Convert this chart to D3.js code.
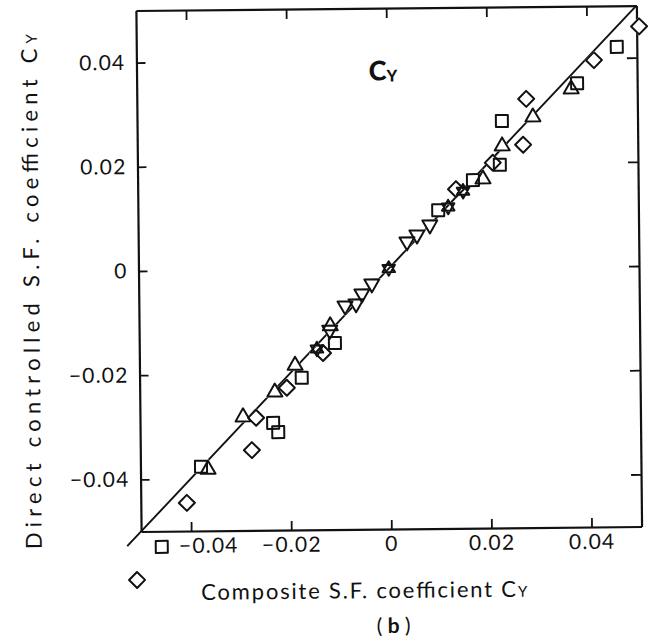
<!DOCTYPE html>
<html>
<head>
<meta charset="utf-8">
<script src="https://cdn.jsdelivr.net/npm/d3@7"></script>
<style>
  body { margin: 0; background: #fff; }
  svg text { font-family: Lato, "DejaVu Sans", sans-serif; fill: #111; }
</style>
</head>
<body>
<svg id="chart" width="658" height="642"></svg>
<script>
// Tick values shared by both axes
const xTicks = [-0.04, -0.02, 0, 0.02, 0.04];
const yTicks = [-0.04, -0.02, 0, 0.02, 0.04];

// [composite Cy, direct controlled Cy] pairs, one array per marker type
const diamondPts = [
  [0.0505, 0.0460], [0.0414, 0.0396], [0.0278, 0.0323], [0.0271, 0.0235],
  [0.0210, 0.0201], [0.0136, 0.0151], [-0.0133, -0.0161], [-0.0206, -0.0227],
  [-0.0268, -0.0284], [-0.0277, -0.0346], [-0.0408, -0.0446], [-0.0509, -0.0593]
];
const squarePts = [
  [0.0460, 0.0421], [0.0380, 0.0352], [0.0229, 0.0281], [0.0224, 0.0197],
  [0.0170, 0.0168], [0.0100, 0.0111], [-0.0109, -0.0142], [-0.0176, -0.0208],
  [-0.0234, -0.0294], [-0.0224, -0.0312], [-0.0379, -0.0377], [-0.0459, -0.0530]
];
const triUpPts = [
  [0.0368, 0.0345], [0.0291, 0.0292], [0.0229, 0.0237], [0.0190, 0.0174],
  [-0.0118, -0.0105], [-0.0189, -0.0180], [-0.0230, -0.0231], [-0.0294, -0.0278],
  [-0.0365, -0.0378]
];
const triDownPts = [
  [0.0083, 0.0079], [0.0057, 0.0060], [0.0037, 0.0047], [-0.0034, -0.0033],
  [-0.0054, -0.0052], [-0.0066, -0.0071], [-0.0088, -0.0075], [-0.0119, -0.0121]
];
const starPts = [
  [0.0000, 0.0000], [0.0120, 0.0117], [0.0150, 0.0147], [-0.0145, -0.0153]
];
// Extent of the y = x reference line
const lineExtent = [-0.0528, 0.05];

const svg = d3.select("#chart");
const g = svg.append("g").attr("transform", "rotate(-0.57,390,270)");

const x = d3.scaleLinear().domain([-0.05, 0.05]).range([138.5, 639]);
const y = d3.scaleLinear().domain([-0.05, 0.05]).range([529, 8]);

const fmt = v => v === 0 ? "0" : (v < 0 ? "\u2212" : "") + Math.abs(v).toFixed(2);

function styleAxis(sel) {
  sel.select(".domain").attr("stroke", "#111").attr("stroke-width", 2.2);
  sel.selectAll(".tick line").attr("stroke", "#111").attr("stroke-width", 1.8);
  sel.selectAll(".tick text").attr("font-size", 21).style("letter-spacing", "1.2px");
}

// Bottom and left axes carry labels, ticks point inward
const xAxis = g.append("g").attr("transform", `translate(0,${y(-0.05)})`)
  .call(d3.axisBottom(x).tickValues(xTicks).tickSizeInner(-9).tickSizeOuter(0)
    .tickPadding(7).tickFormat(fmt));
styleAxis(xAxis);
xAxis.selectAll(".tick text").attr("dx", d => d === -0.04 ? 17 : 0);

const yAxis = g.append("g").attr("transform", `translate(${x(-0.05)},0)`)
  .call(d3.axisLeft(y).tickValues(yTicks).tickSizeInner(-9).tickSizeOuter(0)
    .tickPadding(11).tickFormat(fmt));
styleAxis(yAxis);

// Top and right frame edges with inward ticks
const topAxis = g.append("g").attr("transform", `translate(0,${y(0.05)})`)
  .call(d3.axisTop(x).tickValues(xTicks).tickSizeInner(-10).tickSizeOuter(0).tickFormat(""));
styleAxis(topAxis);
const rightAxis = g.append("g").attr("transform", `translate(${x(0.05)},0)`)
  .call(d3.axisRight(y).tickValues(yTicks).tickSizeInner(-10).tickSizeOuter(0).tickFormat(""));
styleAxis(rightAxis);

// y = x line
g.append("line")
  .attr("x1", x(lineExtent[0])).attr("y1", y(lineExtent[0]))
  .attr("x2", x(lineExtent[1])).attr("y2", y(lineExtent[1]))
  .attr("stroke", "#111").attr("stroke-width", 1.9);

// Marker outlines
const tri = (w, dir) => {
  const h = w * 0.866;
  return dir > 0
    ? `M0,${-h / 2}L${w / 2},${h / 2}L${-w / 2},${h / 2}Z`
    : `M0,${h / 2}L${w / 2},${-h / 2}L${-w / 2},${-h / 2}Z`;
};
const starPath = (w) => {
  const h = w * 0.866;
  return `M0,${-2 * h / 3}L${w / 2},${h / 3}L${-w / 2},${h / 3}Z` +
         `M0,${2 * h / 3}L${w / 2},${-h / 3}L${-w / 2},${-h / 3}Z`;
};
const series = [
  { pts: squarePts,  path: "M-6,-6h12v12h-12Z" },
  { pts: diamondPts, path: "M0,-8L8,0L0,8L-8,0Z" },
  { pts: triUpPts,   path: tri(15, 1) },
  { pts: triDownPts, path: tri(15, -1) },
  { pts: starPts,    path: starPath(12.5) }
];

// White backing hides the reference line under each marker; outlines drawn on top
const backing = g.append("g");
const outlines = g.append("g");
series.forEach(s => {
  backing.selectAll(null).data(s.pts).join("path")
    .attr("d", s.path)
    .attr("transform", d => `translate(${x(d[0])},${y(d[1])})`)
    .attr("fill", "#fff").attr("stroke", "#fff").attr("stroke-width", 2);
  outlines.selectAll(null).data(s.pts).join("path")
    .attr("d", s.path)
    .attr("transform", d => `translate(${x(d[0])},${y(d[1])})`)
    .attr("fill", "none").attr("stroke", "#111").attr("stroke-width", 2)
    .attr("stroke-linejoin", "round");
});

// In-plot label
const lab = g.append("text").attr("x", x(-0.0036)).attr("y", y(0.0361))
  .attr("font-weight", "900").attr("font-size", 27);
lab.append("tspan").text("C");
lab.append("tspan").attr("font-size", 16).attr("dy", 1).text("Y");

// Axis titles
const xt = g.append("text").attr("x", 361).attr("y", 598)
  .attr("text-anchor", "middle").attr("font-size", 22)
  .attr("textLength", 326).attr("lengthAdjust", "spacing");
xt.append("tspan").text("Composite S.F. coefficient  C");
xt.append("tspan").attr("font-size", 15).text("Y");

const yt = g.append("text").attr("transform", "translate(39,288) rotate(-90)")
  .attr("text-anchor", "middle").attr("font-size", 22)
  .attr("textLength", 515).attr("lengthAdjust", "spacing");
yt.append("tspan").text("Direct controlled S.F. coefficient  C");
yt.append("tspan").attr("font-size", 15).text("Y");

const sub = g.append("text").attr("x", 390).attr("y", 633)
  .attr("text-anchor", "middle").attr("font-size", 21);
sub.append("tspan").text("( ");
sub.append("tspan").attr("font-weight", "bold").text("b");
sub.append("tspan").text(" )");
</script>
</body>
</html>
